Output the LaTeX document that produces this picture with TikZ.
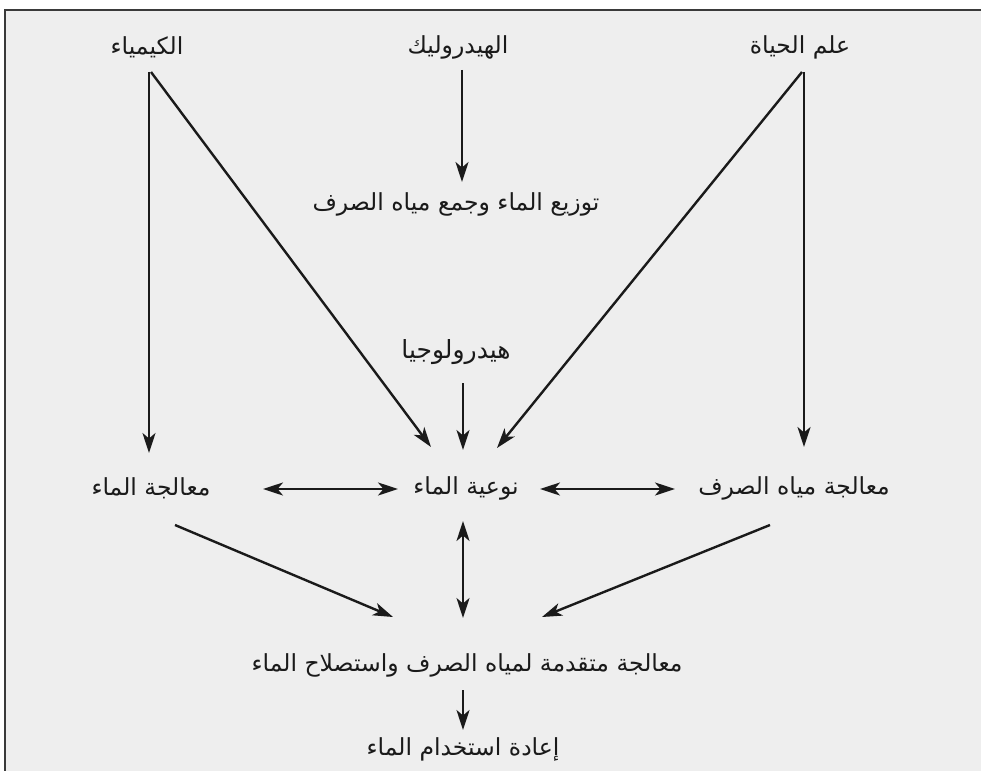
\documentclass[tikz,border=0pt]{standalone}
\usepackage{fontspec}
\usetikzlibrary{arrows.meta,calc}
\TeXXeTstate=1
\newfontfamily\arabicfont[Script=Arabic]{DejaVu Sans}
\newcommand{\artxt}[1]{{\arabicfont\beginR #1\endR}}
\definecolor{bgc}{HTML}{EEEEEE}
\definecolor{ink}{HTML}{1A1A1A}
\definecolor{framec}{HTML}{3A3A3A}
\tikzset{
  lbl/.style={text=ink, inner sep=0pt, font=\fontsize{23.5}{27}\selectfont},
  biglbl/.style={text=ink, inner sep=0pt, font=\fontsize{25}{29}\selectfont},
  tipx/.tip={Stealth[length=20pt,width=13pt,inset=5.5pt]},
  arr/.style={draw=ink, line width=2.4pt, -tipx},
  darr/.style={draw=ink, line width=2.4pt, tipx-tipx},
}
\begin{document}
\begin{tikzpicture}[x=1pt,y=-1pt]
\useasboundingbox (0,0) rectangle (981,770);
\fill[white] (-5,-5) rectangle (990,780);
\fill[bgc] (5,10) rectangle (990,780);
\draw[framec, line width=2pt] (5,780) -- (5,10) -- (990,10);

\node[lbl] (chem)  at (147,47)  {\artxt{الكيمياء}};
\node[lbl] (hyd)   at (458,47)  {\artxt{الهيدروليك}};
\node[lbl] (bio)   at (800,47)  {\artxt{علم الحياة}};
\node[lbl] (dist)  at (456,204) {\artxt{توزيع الماء وجمع مياه الصرف}};
\node[biglbl] (hydro) at (456,352) {\artxt{هيدرولوجيا}};
\node[lbl] (mt)    at (151,488) {\artxt{معالجة الماء}};
\node[lbl] (nw)    at (466,488) {\artxt{نوعية الماء}};
\node[lbl] (ww)    at (794,488) {\artxt{معالجة مياه الصرف}};
\node[lbl] (adv)   at (467,665) {\artxt{معالجة متقدمة لمياه الصرف واستصلاح الماء}};
\node[lbl] (reuse) at (463,749) {\artxt{إعادة استخدام الماء}};

\draw[arr] ($(chem)+(2,25)$) -- ($(mt)+(-2,-35)$);
\draw[arr] ($(chem)+(4,25)$) -- ($(nw)+(-35,-41)$);
\draw[arr] ($(hyd)+(4,23)$) -- ($(dist)+(6,-22)$);
\draw[arr] ($(bio)+(4,25)$) -- ($(ww)+(10,-41)$);
\draw[arr] ($(bio)+(2,25)$) -- ($(nw)+(31,-40)$);
\draw[arr] ($(hydro)+(7,31)$) -- ($(nw)+(-3,-38)$);
\draw[darr] ($(mt)+(112,1)$) -- ($(nw)+(-68,1)$);
\draw[darr] ($(nw)+(74,1)$) -- ($(ww)+(-119,1)$);
\draw[darr] ($(nw)+(-3,33)$) -- ($(adv)+(-4,-47)$);
\draw[arr] ($(mt)+(24,37)$) -- ($(adv)+(-74,-48)$);
\draw[arr] ($(ww)+(-24,37)$) -- ($(adv)+(75,-48)$);
\draw[arr] ($(adv)+(-4,25)$) -- ($(reuse)+(0,-19)$);
\end{tikzpicture}
\end{document}
